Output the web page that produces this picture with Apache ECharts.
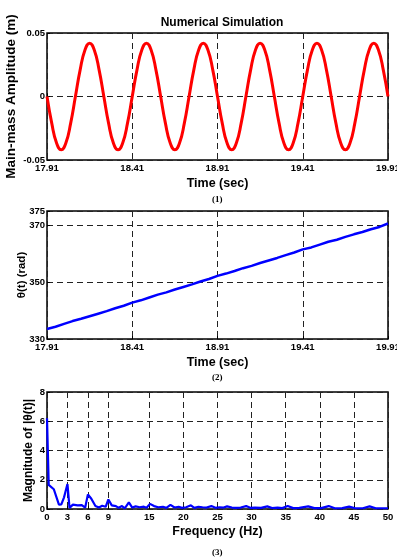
<!DOCTYPE html>
<html>
<head>
<meta charset="utf-8">
<script src="https://cdn.jsdelivr.net/npm/echarts@6/dist/echarts.min.js"></script>
<style>
  html, body { margin: 0; padding: 0; background: #fff; }
  #chart { width: 397px; height: 558px; }
</style>
</head>
<body>
<div id="chart"></div>
<script>
// panel 1: main-mass amplitude, sampled every 1/36 s from 17.91 s
const ampStart = 17.91;
const ampStep = 1 / 36;
const ampValues = [
  0, -0.021, -0.0364, -0.042, -0.0364, -0.021, 0, 0.021, 0.0364, 0.042, 0.0364, 0.021,
  0, -0.021, -0.0364, -0.042, -0.0364, -0.021, 0, 0.021, 0.0364, 0.042, 0.0364, 0.021,
  0, -0.021, -0.0364, -0.042, -0.0364, -0.021, 0, 0.021, 0.0364, 0.042, 0.0364, 0.021,
  0, -0.021, -0.0364, -0.042, -0.0364, -0.021, 0, 0.021, 0.0364, 0.042, 0.0364, 0.021,
  0, -0.021, -0.0364, -0.042, -0.0364, -0.021, 0, 0.021, 0.0364, 0.042, 0.0364, 0.021,
  0, -0.021, -0.0364, -0.042, -0.0364, -0.021, 0, 0.021, 0.0364, 0.042, 0.0364, 0.021,
  0
];

// panel 2: theta(t), sampled every 0.05 s from 17.91 s
const thetaStart = 17.91;
const thetaStep = 0.05;
const thetaValues = [
  333.5, 334.3, 335.3, 336.3, 337.1, 338.0, 338.9, 339.8, 340.8, 341.7,
  342.8, 343.6, 344.6, 345.6, 346.4, 347.4, 348.3, 349.2, 350.2, 351.1,
  352.2, 353.0, 353.9, 354.9, 355.7, 356.7, 357.6, 358.5, 359.5, 360.4,
  361.5, 362.2, 363.2, 364.2, 364.9, 365.9, 366.8, 367.6, 368.6, 369.4,
  370.6
];

// panel 3: spectrum of theta(t)
const fftFreq = [
  0, 0.25, 1.0, 1.75, 2.1, 2.5, 3.0, 3.3, 3.8, 4.5, 5.1, 5.6, 6.0, 6.5, 7.1, 7.6, 8.1, 8.6,
  9.0, 9.5, 10.1, 10.5, 11.0, 11.4, 12.0, 12.5, 13.0, 13.6, 14.2, 14.6, 15.1, 15.7, 16.3,
  17.0, 17.5, 18.1, 18.7, 19.3, 19.8, 20.4, 21.1, 21.6, 22.2, 22.8, 23.4, 24.1, 24.7, 25.3,
  25.9, 26.4, 27.1, 27.7, 28.4, 29.2, 29.8, 30.5, 31.4, 32.3, 33.0, 33.8, 34.5, 35.3, 36.1,
  37.0, 38.3, 39.2, 40.2, 41.3, 42.2, 43.3, 44.3, 45.2, 46.3, 47.3, 48.2, 50
];
const fftMag = [
  6.2, 1.65, 1.35, 0.3, 0.32, 0.8, 1.7, 0.08, 0.3, 0.25, 0.27, 0.1, 1.0, 0.7, 0.2, 0.1, 0.22, 0.15,
  0.65, 0.25, 0.2, 0.08, 0.2, 0.05, 0.45, 0.1, 0.18, 0.12, 0.16, 0.08, 0.35, 0.2, 0.12,
  0.15, 0.08, 0.28, 0.1, 0.15, 0.08, 0.12, 0.25, 0.08, 0.15, 0.12, 0.1, 0.2, 0.08, 0.12,
  0.1, 0.18, 0.1, 0.08, 0.1, 0.2, 0.08, 0.1, 0.08, 0.18, 0.07, 0.1, 0.06, 0.2, 0.06,
  0.08, 0.18, 0.06, 0.06, 0.2, 0.05, 0.06, 0.16, 0.05, 0.05, 0.18, 0.05, 0.05
];
const fftTicks = [0, 3, 6, 9, 15, 20, 25, 30, 35, 40, 45, 50];

const ampData = ampValues.map((v, i) => [ampStart + i * ampStep, v]);
const thetaData = thetaValues.map((v, i) => [thetaStart + i * thetaStep, v]);
const fftData = fftFreq.map((f, i) => [f, fftMag[i]]);

const FONT = '"Liberation Sans", Arial, sans-serif';
const dashed = { show: true, lineStyle: { color: '#222', type: [6, 4], width: 1 } };
const tickLabel = { color: '#000', fontFamily: FONT, fontWeight: 'bold', fontSize: 9.5, margin: 3 };
const nameStyle = (size) => ({ color: '#000', fontFamily: FONT, fontWeight: 'bold', fontSize: size });
const inTick = { show: true, inside: true, length: 3, lineStyle: { color: '#000' } };

function timeAxis(gridIndex) {
  return {
    type: 'value', gridIndex,
    min: 17.91, max: 19.91, interval: 0.5,
    name: 'Time (sec)', nameLocation: 'middle', nameGap: 17, nameMoveOverlap: false,
    nameTextStyle: nameStyle(12.5),
    axisLine: { show: false }, axisTick: inTick,
    axisLabel: { ...tickLabel, formatter: (v) => v.toFixed(2) },
    splitLine: dashed
  };
}

const grid = (top, height) => ({
  left: 47, right: 9, top, height, show: true,
  containLabel: false, outerBoundsMode: 'none',
  borderColor: '#000', borderWidth: 1.5, backgroundColor: '#fff'
});

const chart = echarts.init(document.getElementById('chart'));
chart.setOption({
  animation: false,
  title: {
    text: 'Numerical Simulation', left: 217, top: 12, textAlign: 'center',
    textStyle: { ...nameStyle(12) }
  },
  grid: [grid(33, 127), grid(211, 128), grid(392, 117)],
  xAxis: [
    timeAxis(0),
    timeAxis(1),
    {
      type: 'value', gridIndex: 2, min: 0, max: 50,
      name: 'Frequency (Hz)', nameLocation: 'middle', nameGap: 16, nameMoveOverlap: false,
      nameTextStyle: nameStyle(12.5),
      axisLine: { show: false },
      axisTick: { ...inTick, customValues: fftTicks },
      axisLabel: { ...tickLabel, customValues: fftTicks },
      splitLine: dashed
    }
  ],
  yAxis: [
    {
      type: 'value', gridIndex: 0, min: -0.05, max: 0.05, interval: 0.05,
      name: 'Main-mass Amplitude (m)', nameLocation: 'middle', nameGap: 29, nameMoveOverlap: false,
      nameTextStyle: nameStyle(13.5),
      axisLine: { show: false }, axisTick: inTick,
      axisLabel: { ...tickLabel, margin: 2, formatter: (v) => Math.abs(v) < 1e-9 ? '0' : v.toFixed(2) },
      splitLine: dashed
    },
    {
      type: 'value', gridIndex: 1, min: 330, max: 375, interval: 20,
      name: 'θ(t) (rad)', nameLocation: 'middle', nameGap: 19, nameMoveOverlap: false,
      nameTextStyle: nameStyle(11.5),
      axisLine: { show: false }, axisTick: inTick,
      axisLabel: { ...tickLabel, margin: 2 },
      splitLine: dashed
    },
    {
      type: 'value', gridIndex: 2, min: 0, max: 8, interval: 2,
      name: 'Magnitude of |θ(t)|', nameLocation: 'middle', nameGap: 12, nameMoveOverlap: false,
      nameTextStyle: nameStyle(12),
      axisLine: { show: false }, axisTick: inTick,
      axisLabel: { ...tickLabel, margin: 2 },
      splitLine: dashed
    }
  ],
  series: [
    {
      type: 'line', xAxisIndex: 0, yAxisIndex: 0, data: ampData,
      showSymbol: false, smooth: 0.5, lineStyle: { color: '#ff0000', width: 3 }
    },
    {
      type: 'line', xAxisIndex: 1, yAxisIndex: 1, data: thetaData,
      showSymbol: false, lineStyle: { color: '#0000ff', width: 2.5 }
    },
    {
      type: 'line', xAxisIndex: 2, yAxisIndex: 2, data: fftData,
      showSymbol: false, lineStyle: { color: '#0000ff', width: 2.2 }
    }
  ],
  graphic: [
    { type: 'text', left: 212, top: 195, style: { text: '(1)', font: 'bold 9px "Liberation Serif", serif', fill: '#000' } },
    { type: 'text', left: 212, top: 373, style: { text: '(2)', font: 'bold 9px "Liberation Serif", serif', fill: '#000' } },
    { type: 'text', left: 212, top: 548, style: { text: '(3)', font: 'bold 9px "Liberation Serif", serif', fill: '#000' } }
  ]
});
</script>
</body>
</html>
